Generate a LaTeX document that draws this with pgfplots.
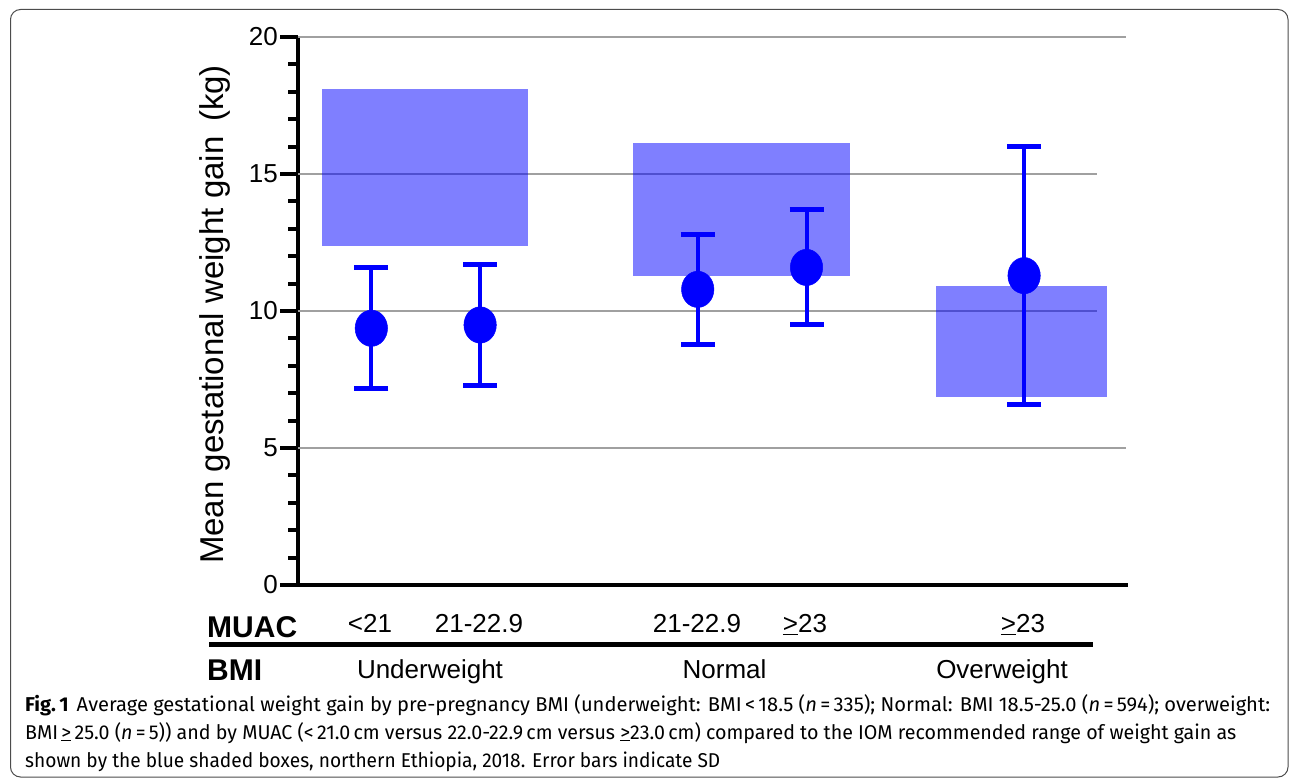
\documentclass[border=0pt]{standalone}
\usepackage{pgfplots}
\pgfplotsset{compat=1.18}
\usepackage{fontspec}
\setmainfont{Liberation Sans}
\newfontfamily\capfont{Fira Sans}
\definecolor{boxblue}{RGB}{128,128,255}
\definecolor{gridgray}{RGB}{160,160,160}
\begin{document}
\begin{tikzpicture}
\useasboundingbox (0,0) rectangle (1295pt,779pt);
\draw[rounded corners=10pt, line width=1pt, black!70] (10.5pt,2pt) rectangle (1288pt,769.5pt);
\begin{axis}[
  at={(298pt,194pt)}, anchor=south west, scale only axis,
  width=830pt, height=548pt,
  xmin=0.326, xmax=7.955, ymin=0, ymax=20,
  axis x line=bottom, axis y line=left,
  axis line style={line width=4pt, -},
  xtick=\empty,
  ytick={0,5,10,15,20},
  minor ytick={1,2,3,4,6,7,8,9,11,12,13,14,16,17,18,19},
  tick align=outside,
  major tick length=18pt, minor tick length=10pt,
  tick style={line width=4pt, black},
  yticklabel style={font=\fontsize{26}{26}\selectfont, inner sep=2pt},
  /pgf/number format/assume math mode=true,
  clip=false,
]
% grid lines
\draw[gridgray, line width=2pt] (axis cs:0.326,20) -- (axis cs:7.937,20);
\draw[gridgray, line width=2pt] (axis cs:0.326,15) -- (axis cs:7.67,15);
\draw[gridgray, line width=2pt] (axis cs:0.326,10) -- (axis cs:7.67,10);
\draw[gridgray, line width=2pt] (axis cs:0.326,5) -- (axis cs:7.937,5);
% IOM recommended ranges (shaded boxes)
\addplot[fill=blue, fill opacity=0.5, draw=none, forget plot] coordinates {(0.547,12.37) (2.44,12.37) (2.44,18.09) (0.547,18.09)};
\addplot[fill=blue, fill opacity=0.5, draw=none, forget plot] coordinates {(3.405,11.28) (5.40,11.28) (5.40,16.14) (3.405,16.14)};
\addplot[fill=blue, fill opacity=0.5, draw=none, forget plot] coordinates {(6.19,6.87) (7.762,6.87) (7.762,10.91) (6.19,10.91)};
% means with SD
\addplot[only marks, mark=*, color=blue,
  mark options={fill=blue, draw=blue, line width=0.5pt, yscale=1.12},
  mark size=16.2pt,
  error bars/.cd, y dir=both, y explicit,
  error mark=|,
  error bar style={line width=4pt, blue},
  error mark options={line width=5pt, mark size=17pt, blue}]
coordinates {
  (1,9.37) +- (0,2.2)
  (2,9.49) +- (0,2.2)
  (4,10.79) +- (0,2.0)
  (5,11.59) +- (0,2.1)
  (7,11.29) +- (0,4.7)
};
\end{axis}
% y label
\node[rotate=90, font=\fontsize{33}{33}\selectfont, inner sep=0] at (215pt,464.5pt) {Mean gestational weight gain \,(kg)};
% category rows
\node[font=\fontsize{30}{30}\selectfont\bfseries, anchor=base west, inner sep=0] at (207pt,141pt) {MUAC};
\node[font=\fontsize{30}{30}\selectfont\bfseries, anchor=base west, inner sep=0] at (207pt,99pt) {BMI};
\draw[line width=5pt] (209pt,134.5pt) -- (1093pt,134.5pt);
\begin{scope}[every node/.style={font=\fontsize{26}{26}\selectfont, anchor=base, inner sep=0}]
\node at (370pt,146pt) {<21};
\node at (479pt,146pt) {21-22.9};
\node at (697pt,146pt) {21-22.9};
\node at (805pt,146pt) {\underline{>}23};
\node at (1023pt,146pt) {\underline{>}23};
\node at (430pt,100pt) {Underweight};
\node at (724.5pt,100pt) {Normal};
\node at (1002pt,100pt) {Overweight};
\end{scope}
% caption
\begin{scope}[every node/.style={anchor=base west, inner sep=0}]
\node at (25pt,68pt) {\resizebox{1245pt}{\height}{\capfont\fontsize{20}{20}\selectfont\textbf{Fig.\,1}\hspace{8pt}Average gestational weight gain by pre-pregnancy BMI (underweight: BMI\,<\,18.5 (\textit{n}\,=\,335); Normal: BMI 18.5-25.0 (\textit{n}\,=\,594); overweight:}};
\node at (25pt,40pt) {\resizebox{1211pt}{\height}{\capfont\fontsize{20}{20}\selectfont BMI\,\underline{>}\,25.0 (\textit{n}\,=\,5)) and by MUAC (<\,21.0\,cm versus 22.0-22.9\,cm versus \underline{>}23.0\,cm) compared to the IOM recommended range of weight gain as}};
\node at (25pt,12pt) {\resizebox{695pt}{\height}{\capfont\fontsize{20}{20}\selectfont shown by the blue shaded boxes, northern Ethiopia, 2018. Error bars indicate SD}};
\end{scope}
\end{tikzpicture}
\end{document}
